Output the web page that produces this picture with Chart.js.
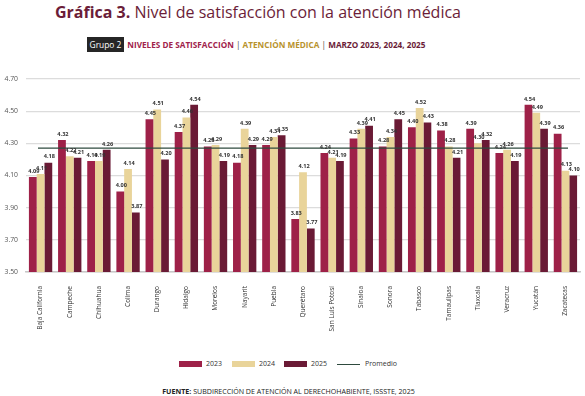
<!DOCTYPE html>
<html>
<head>
<meta charset="utf-8">
<script src="https://cdn.jsdelivr.net/npm/chart.js@4.4.1/dist/chart.umd.min.js"></script>
<style>
  body { margin: 0; width: 585px; height: 396px; background: #fff; position: relative; overflow: hidden; font-family: "Open Sans", sans-serif; }
  #title { position: absolute; top: 0; left: 0; width: 516px; text-align: center; font-size: 16px; color: #6b1d38; line-height: 24px; white-space: nowrap; }
  #title b { font-weight: 700; }
  #sub { position: absolute; top: 38px; left: 0; width: 512px; text-align: center; font-size: 8.2px; font-weight: 700; line-height: 14px; white-space: nowrap; }
  #sub .grp { background: #262626; color: #fff; font-weight: 400; padding: 2px 3px; font-size: 8.4px; margin-right: 3px; }
  #sub .sep { color: #444; font-weight: 400; }
  #wrap { position: absolute; top: 60px; left: 0; width: 585px; height: 285px; }
  #legend { position: absolute; top: 358px; left: 0; width: 585px; height: 12px; font-size: 7px; color: #333; }
  .lg { position: absolute; top: 0; line-height: 12px; }
  .sw { display: inline-block; width: 23px; height: 6px; vertical-align: middle; margin-right: 4px; }
  .ln { display: inline-block; width: 23px; height: 0; border-top: 1.2px solid #2e4a3e; vertical-align: middle; margin-right: 5px; }
  #src { position: absolute; top: 385px; left: 0; width: 577px; text-align: center; font-size: 7.1px; color: #222; line-height: 12px; }
</style>
</head>
<body>
<div id="title"><b>Gráfica 3.</b> Nivel de satisfacción con la atención médica</div>
<div id="sub"><span class="grp">Grupo 2</span><span style="color:#a0234b">NIVELES DE SATISFACCIÓN</span> <span class="sep">|</span> <span style="color:#b8932e">ATENCIÓN MÉDICA</span> <span class="sep">|</span> <span style="color:#6b1d38">MARZO 2023, 2024, 2025</span></div>
<div id="wrap"><canvas id="myChart"></canvas></div>
<div id="legend">
  <span class="lg" style="left:179px"><span class="sw" style="background:#9e2148"></span>2023</span>
  <span class="lg" style="left:232px"><span class="sw" style="background:#e9d49a"></span>2024</span>
  <span class="lg" style="left:284px"><span class="sw" style="background:#6a1a35"></span>2025</span>
  <span class="lg" style="left:337px"><span class="ln"></span>Promedio</span>
</div>
<div id="src"><b>FUENTE:</b> SUBDIRECCIÓN DE ATENCIÓN AL DERECHOHABIENTE, ISSSTE, 2025</div>
<script>
const estados = ["Baja California", "Campeche", "Chihuahua", "Colima", "Durango", "Hidalgo", "Morelos", "Nayarit", "Puebla", "Querétaro", "San Luis Potosí", "Sinaloa", "Sonora", "Tabasco", "Tamaulipas", "Tlaxcala", "Veracruz", "Yucatán", "Zacatecas"];
const v2023 = [4.09, 4.32, 4.19, 4.00, 4.45, 4.37, 4.28, 4.18, 4.29, 3.83, 4.24, 4.33, 4.28, 4.40, 4.38, 4.39, 4.24, 4.54, 4.36];
const v2024 = [4.11, 4.22, 4.19, 4.14, 4.51, 4.46, 4.29, 4.39, 4.34, 4.12, 4.21, 4.39, 4.34, 4.52, 4.28, 4.30, 4.26, 4.49, 4.13];
const v2025 = [4.18, 4.21, 4.26, 3.87, 4.20, 4.54, 4.19, 4.29, 4.35, 3.77, 4.19, 4.41, 4.45, 4.43, 4.21, 4.32, 4.19, 4.39, 4.10];
const promedio = 4.27;
const yTicks = [3.50, 3.70, 3.90, 4.10, 4.30, 4.50, 4.70];

// valores encima de cada barra + linea de promedio
const extras = {
  id: "extras",
  afterDatasetsDraw(chart) {
    const c = chart.ctx;
    const area = chart.chartArea;
    const y = chart.scales.y.getPixelForValue(promedio);
    c.save();
    c.strokeStyle = "#2e4a3e";
    c.lineWidth = 1.3;
    c.beginPath();
    c.moveTo(area.left + 12, y);
    c.lineTo(area.right - 12, y);
    c.stroke();
    c.font = "bold 5.6px 'Open Sans'";
    c.fillStyle = "#333";
    c.textAlign = "center";
    c.textBaseline = "bottom";
    chart.data.datasets.forEach((ds, d) => {
      chart.getDatasetMeta(d).data.forEach((bar, i) => {
        c.fillText(ds.data[i].toFixed(2), bar.x + 1, bar.y - 3);
      });
    });
    c.restore();
  },
};

const ctx = document.getElementById("myChart");
new Chart(ctx, {
  type: "bar",
  data: {
    labels: estados,
    datasets: [
      { label: "2023", data: v2023, backgroundColor: "#9e2148" },
      { label: "2024", data: v2024, backgroundColor: "#e9d49a" },
      { label: "2025", data: v2025, backgroundColor: "#6a1a35" },
    ],
  },
  options: {
    responsive: true,
    maintainAspectRatio: false,
    animation: false,
    layout: { padding: { top: 19, right: 5, left: 0, bottom: 0 } },
    datasets: { bar: { categoryPercentage: 0.8, barPercentage: 1 } },
    plugins: { legend: { display: false }, tooltip: { enabled: false } },
    scales: {
      x: {
        grid: { display: false },
        border: { color: "#c8c8c8", width: 1.5 },
        ticks: {
          minRotation: 90,
          maxRotation: 90,
          autoSkip: false,
          padding: 6,
          color: "#333",
          font: { family: "Open Sans", size: 6.5 },
        },
        afterFit(scale) { scale.height = 73; },
      },
      y: {
        min: 3.5,
        max: 4.7,
        afterBuildTicks(scale) { scale.ticks = yTicks.map((v) => ({ value: v })); },
        grid: { color: "#dcdcdc", lineWidth: 1.3, drawTicks: false },
        border: { display: false },
        ticks: {
          padding: 8,
          color: "#555",
          font: { family: "Open Sans", size: 6.8 },
          callback: (v) => v.toFixed(2),
        },
        afterFit(scale) { scale.width = 26; },
      },
    },
  },
  plugins: [extras],
});
</script>
</body>
</html>
